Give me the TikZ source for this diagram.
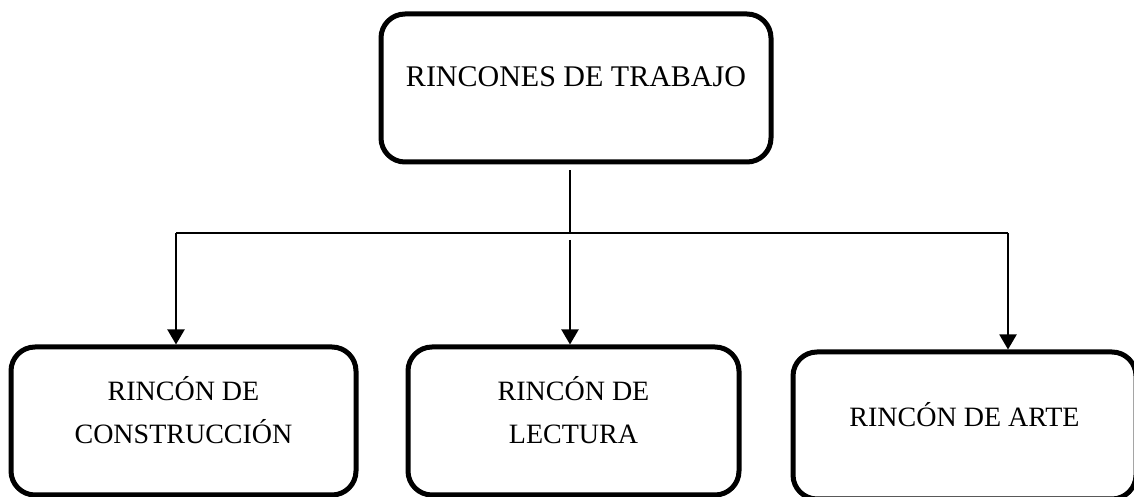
\documentclass[tikz,border=0pt]{standalone}
\usepackage{fontspec}
\setmainfont{Liberation Serif}
\usetikzlibrary{arrows.meta,positioning,calc}
\tikzset{
  corner/.style={draw, line width=2.5pt, rounded corners=12pt, inner sep=0pt},
  rootbox/.style={corner, minimum width=195pt, minimum height=74pt},
  leafbox/.style={corner, minimum height=74pt},
  caption/.style={align=center, yshift=5.5pt, font=\fontsize{14}{21.5}\selectfont},
  link/.style={line width=1pt},
  arrow/.style={link, -{Triangle[length=7.5pt,width=8.5pt]}}
}

\begin{document}
\begin{tikzpicture}[x=0.5pt, y=0.5pt]
    \useasboundingbox (0,0) rectangle (1134,497);
    % Top box
    \node[rootbox, label={[caption, font=\fontsize{15}{18}\selectfont]center:RINCONES DE TRABAJO}] (root) at (576,409) {};
    % Bottom boxes
    \node[leafbox, minimum width=172.5pt, label={[caption]center:RINCÓN DE\\CONSTRUCCIÓN}] (constr) at (183.5,76) {};
    \node[leafbox, minimum width=165.5pt, label={[caption]center:RINCÓN DE\\LECTURA}] (lect) at (573.5,76) {};
    \node[leafbox, minimum width=171.5pt, minimum height=73.5pt, label={[caption]center:RINCÓN DE ARTE}] (arte) at (964.5,71.5) {};
    % Branching bar
    \coordinate (stem) at (570,264);
    \coordinate (barL) at (176,264);
    \coordinate (barR) at (1008,264);
    \draw[link, shorten <=3pt] (root.south -| stem) -- (stem);
    \draw[link] (barL) -- (barR);
    % Arrows down to the corners
    \draw[arrow] (barL) -- (barL |- constr.north);
    \draw[arrow, shorten <=3.5pt] (stem) -- (stem |- lect.north);
    \draw[arrow] (barR) -- (barR |- arte.north);
\end{tikzpicture}
\end{document}
